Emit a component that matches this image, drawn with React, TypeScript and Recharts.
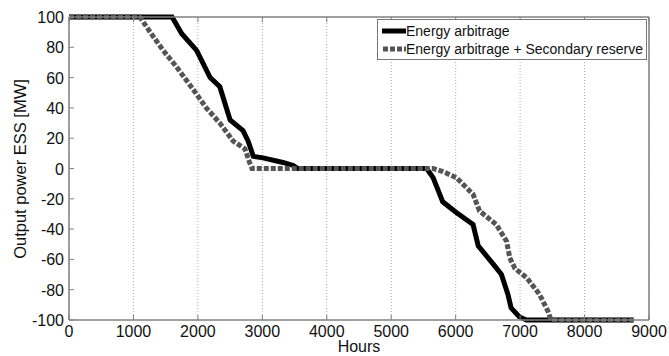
import React from 'react';
import { LineChart, Line, XAxis, YAxis, CartesianGrid } from 'recharts';

// Energy arbitrage only
const arbHours = [0, 1600, 1750, 1980, 2190, 2340, 2500, 2700, 2780, 2860, 3010, 3320, 3480, 3550, 5550, 5650, 5800, 6010, 6270, 6350, 6580, 6710, 6810, 6860, 6990, 7100, 8760];
const arbPower = [100, 100, 89, 78, 60, 54, 32, 25, 18, 8, 7, 4, 2, 0, 0, -6, -22, -29, -37, -51, -63, -70, -83, -92, -98, -100, -100];

// Energy arbitrage + secondary reserve
const resHours = [0, 1100, 1260, 1460, 1670, 1930, 2130, 2340, 2550, 2730, 2810, 2840, 5650, 5800, 6010, 6270, 6370, 6630, 6790, 6840, 6920, 7100, 7300, 7430, 7480, 8760];
const resPower = [100, 100, 90, 78, 67, 52, 40, 30, 18, 13, 3, 0, 0, -2, -6, -17, -28, -37, -48, -59, -66, -72, -83, -94, -100, -100];

const xTicks = [0, 1000, 2000, 3000, 4000, 5000, 6000, 7000, 8000, 9000];
const yTicks = [-100, -80, -60, -40, -20, 0, 20, 40, 60, 80, 100];

const arbData = arbHours.map((h, i) => ({ hours: h, power: arbPower[i] }));
const resData = resHours.map((h, i) => ({ hours: h, power: resPower[i] }));

const FONT = '"Liberation Sans", Arial, Helvetica, sans-serif';
const AXIS = '#808080';

const BottomTick = (props: any) => {
  const { x, y, payload } = props;
  return (
    <g>
      <line x1={x} x2={x} y1={y} y2={y - 5} stroke={AXIS} />
      <text x={x} y={y + 17} textAnchor="middle" fontSize={16} fontFamily={FONT} fill="#111">
        {payload.value}
      </text>
    </g>
  );
};

const LeftTick = (props: any) => {
  const { x, y, payload } = props;
  return (
    <g>
      <line x1={x} x2={x + 5} y1={y} y2={y} stroke={AXIS} />
      <text x={x - 5} y={y + 6} textAnchor="end" fontSize={16} fontFamily={FONT} fill="#111">
        {payload.value}
      </text>
    </g>
  );
};

const TopTick = (props: any) => {
  const { x, y } = props;
  return <line x1={x} x2={x} y1={y} y2={y + 5} stroke={AXIS} />;
};

const RightTick = (props: any) => {
  const { x, y } = props;
  return <line x1={x} x2={x - 5} y1={y} y2={y} stroke={AXIS} />;
};

const App = () => {
  return (
    <div style={{ position: 'absolute', left: 0, top: 0, width: 669, height: 356, background: '#fff' }}>
      <LineChart width={669} height={356} data={arbData} margin={{ top: 16, right: 19, bottom: 6, left: 19 }}>
        <CartesianGrid horizontal={false} vertical stroke="#aaa" strokeDasharray="1 2" xAxisId="bottom" yAxisId="left" />
        <XAxis
          xAxisId="bottom"
          dataKey="hours"
          type="number"
          domain={[0, 9000]}
          ticks={xTicks}
          interval={0}
          height={30}
          tickSize={0}
          tickMargin={0}
          tickLine={false}
          axisLine={{ stroke: AXIS, strokeWidth: 1.5 }}
          tick={<BottomTick />}
        />
        <XAxis
          xAxisId="top"
          orientation="top"
          dataKey="hours"
          type="number"
          domain={[0, 9000]}
          ticks={xTicks}
          interval={0}
          height={1}
          tickSize={0}
          tickMargin={0}
          tickLine={false}
          axisLine={{ stroke: AXIS, strokeWidth: 1.5 }}
          tick={<TopTick />}
        />
        <YAxis
          yAxisId="left"
          type="number"
          domain={[-100, 100]}
          ticks={yTicks}
          interval={0}
          width={50}
          tickSize={0}
          tickMargin={0}
          tickLine={false}
          axisLine={{ stroke: AXIS, strokeWidth: 1.5 }}
          tick={<LeftTick />}
        />
        <YAxis
          yAxisId="right"
          orientation="right"
          type="number"
          domain={[-100, 100]}
          ticks={yTicks}
          interval={0}
          width={1}
          tickSize={0}
          tickMargin={0}
          tickLine={false}
          axisLine={{ stroke: AXIS, strokeWidth: 1.5 }}
          tick={<RightTick />}
        />
        <Line
          xAxisId="bottom"
          yAxisId="left"
          data={arbData}
          dataKey="power"
          type="linear"
          stroke="#000"
          strokeWidth={5}
          dot={false}
          isAnimationActive={false}
        />
        <Line
          xAxisId="bottom"
          yAxisId="left"
          data={resData}
          dataKey="power"
          type="linear"
          stroke="#555"
          strokeWidth={5}
          strokeDasharray="5 2"
          dot={false}
          isAnimationActive={false}
        />
      </LineChart>

      <div
        style={{
          position: 'absolute',
          left: 20,
          top: 169,
          transform: 'translate(-50%, -50%) rotate(-90deg)',
          whiteSpace: 'nowrap',
          fontFamily: FONT,
          fontSize: 16.5,
          color: '#111',
        }}
      >
        Output power ESS [MW]
      </div>
      <div
        style={{
          position: 'absolute',
          left: 359,
          top: 347,
          transform: 'translate(-50%, -50%)',
          fontFamily: FONT,
          fontSize: 16,
          lineHeight: '16px',
          color: '#111',
        }}
      >
        Hours
      </div>

      <div
        style={{
          position: 'absolute',
          left: 377,
          top: 19,
          width: 270,
          height: 41,
          border: '1px solid #777',
          background: '#fff',
          fontFamily: FONT,
          fontSize: 14,
          color: '#111',
          boxSizing: 'border-box',
        }}
      >
        <div style={{ position: 'absolute', left: 4, top: 2, height: 18, display: 'flex', alignItems: 'center', whiteSpace: 'nowrap' }}>
          <svg width={24} height={16}>
            <line x1={0} x2={24} y1={8} y2={8} stroke="#000" strokeWidth={5} />
          </svg>
          <span>Energy arbitrage</span>
        </div>
        <div style={{ position: 'absolute', left: 4, top: 20, height: 18, display: 'flex', alignItems: 'center', whiteSpace: 'nowrap' }}>
          <svg width={24} height={16}>
            <line x1={1} x2={24} y1={8} y2={8} stroke="#555" strokeWidth={5} strokeDasharray="5 2" />
          </svg>
          <span>Energy arbitrage + Secondary reserve</span>
        </div>
      </div>
    </div>
  );
};

export default App;
